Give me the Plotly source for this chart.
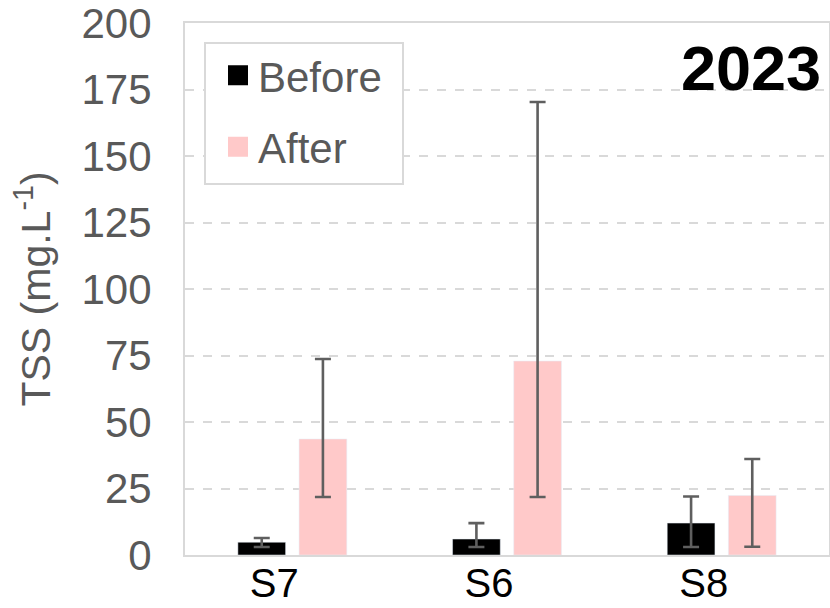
import plotly.graph_objects as go

sites = ["S7", "S6", "S8"]
before = [4.8, 6.0, 12.0]
before_err_plus = [1.6, 6.0, 10.0]
before_err_minus = [1.8, 3.0, 9.0]
after = [43.6, 72.9, 22.4]
after_err_plus = [30.1, 97.4, 13.7]
after_err_minus = [21.8, 51.1, 19.3]
y_ticks = [0, 25, 50, 75, 100, 125, 150, 175, 200]

FONT = "Liberation Sans, Arial, sans-serif"
GRAY = "#595959"
GRID = "#d9d9d9"
ERR = "#5f5f5f"

fig = go.Figure()
fig.add_trace(go.Bar(
    x=sites, y=before, name="Before", marker=dict(color="#000000"),
    error_y=dict(type="data", symmetric=False, array=before_err_plus,
                 arrayminus=before_err_minus, color=ERR, thickness=2.6, width=8),
    showlegend=False,
))
fig.add_trace(go.Bar(
    x=sites, y=after, name="After", marker=dict(color="#ffc9c9"),
    error_y=dict(type="data", symmetric=False, array=after_err_plus,
                 arrayminus=after_err_minus, color=ERR, thickness=2.6, width=8),
    showlegend=False,
))
# legend proxies (large square swatches)
fig.add_trace(go.Scatter(x=[None], y=[None], mode="markers", name="Before",
                         legendgroup="a",
                         marker=dict(symbol="square", size=16, color="#000000",
                                     line=dict(color="#000000", width=4))))
fig.add_trace(go.Scatter(x=[None], y=[None], mode="markers", name="After",
                         legendgroup="b",
                         marker=dict(symbol="square", size=16, color="#ffc9c9",
                                     line=dict(color="#ffc9c9", width=4))))

fig.update_layout(
    width=830, height=608,
    margin=dict(l=185, r=1, t=23, b=53, autoexpand=False),
    paper_bgcolor="white", plot_bgcolor="white",
    font=dict(family=FONT, size=42, color=GRAY),
    barmode="group", bargap=0.43, bargroupgap=0.22,
    showlegend=True,
    legend=dict(
        x=(218 - 185) / 644, y=(555 - 41.4) / 532, xanchor="left", yanchor="top",
        bgcolor="rgba(0,0,0,0)", borderwidth=0,
        font=dict(family=FONT, size=42, color=GRAY),
        tracegroupgap=14, traceorder="grouped",
        itemsizing="trace",
    ),
    shapes=[dict(
        type="rect", xref="paper", yref="paper", layer="above",
        x0=(205 - 185) / 644, x1=(403 - 185) / 644,
        y0=(555 - 184) / 532, y1=(555 - 43) / 532,
        fillcolor="white", line=dict(color=GRID, width=2),
    )],
    annotations=[dict(
        text="<b>2023</b>", xref="paper", yref="paper",
        x=(823 - 185) / 644, y=(555 - 31) / 532, xanchor="right", yanchor="top",
        showarrow=False,
        font=dict(family=FONT, size=63, color="#000000"),
    )],
)
fig.update_xaxes(
    type="category", automargin=False,
    showline=True, linecolor=GRID, linewidth=2, mirror=True,
    showgrid=False, ticks="",
    tickfont=dict(family=FONT, size=40, color="#000000"),
    ticklabelstandoff=-8, ticklabelshift=-18,
)
fig.update_yaxes(
    range=[0, 200], tickvals=y_ticks, ticktext=[str(v) for v in y_ticks],
    automargin=False, ticklabeloverflow="allow",
    showline=True, linecolor=GRID, linewidth=2, mirror=True,
    showgrid=True, gridcolor=GRID, gridwidth=2, griddash="dash",
    zeroline=False, ticks="",
    tickfont=dict(family=FONT, size=42, color=GRAY),
    ticklabelstandoff=23,
    title=dict(text="TSS (mg.L<sup>-1</sup>)", standoff=18,
               font=dict(family=FONT, size=41, color=GRAY)),
)

fig.write_html("out.html")
